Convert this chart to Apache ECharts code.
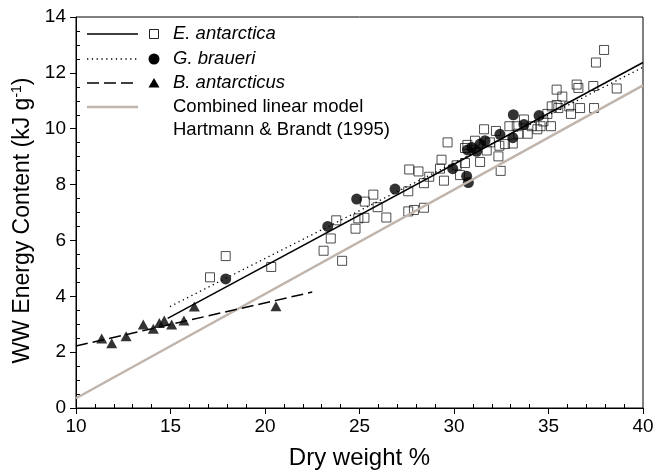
<!DOCTYPE html>
<html>
<head>
<meta charset="utf-8">
<script src="https://cdn.jsdelivr.net/npm/echarts@6/dist/echarts.min.js"></script>
<style>
  html, body { margin: 0; padding: 0; background: #fff; }
  #chart { width: 657px; height: 475px; }
</style>
</head>
<body>
<div id="chart"></div>
<script>
// dry weight %, energy content (kJ/g)
var eAntarctica = [
  [17.09, 4.68], [17.92, 5.44], [20.33, 5.05], [23.10, 5.63], [23.48, 6.07],
  [23.77, 6.72], [24.08, 5.27], [24.79, 6.42], [24.94, 6.79], [25.26, 6.81],
  [25.28, 7.39], [25.73, 7.64], [25.96, 7.19], [26.42, 6.82], [27.58, 7.76],
  [27.58, 7.04], [27.88, 7.09], [28.41, 7.17], [27.63, 8.54], [28.12, 8.47],
  [28.41, 8.05], [28.69, 8.28], [29.34, 8.89], [29.26, 8.57], [29.47, 8.14],
  [29.66, 9.51], [30.14, 8.69], [30.32, 8.34], [30.58, 9.31], [30.58, 8.77],
  [30.71, 9.42], [31.11, 9.57], [31.38, 8.81], [31.59, 9.98], [31.73, 9.22],
  [31.90, 9.51], [32.22, 9.92], [32.40, 9.39], [32.35, 9.01], [32.47, 8.49],
  [32.70, 9.45], [32.93, 10.09], [33.11, 9.47], [33.32, 10.09], [33.40, 9.82],
  [33.70, 10.33], [33.90, 9.82], [34.11, 10.09], [34.41, 9.98], [34.58, 10.09],
  [34.73, 10.26], [34.94, 10.53], [35.13, 10.09], [35.17, 10.80], [35.43, 10.85],
  [35.52, 10.74], [35.43, 11.40], [35.73, 11.15], [36.19, 10.53], [36.10, 10.80],
  [36.49, 11.58], [36.58, 11.46], [36.67, 10.74], [37.37, 11.53], [37.41, 10.74],
  [37.51, 12.37], [37.94, 12.82], [38.61, 11.44]
];
var gBraueri = [
  [17.92, 4.62], [23.32, 6.50], [24.85, 7.48], [26.88, 7.84], [29.93, 8.57],
  [30.67, 8.30], [30.76, 8.07], [30.71, 9.24], [30.94, 9.33], [31.20, 9.19],
  [31.38, 9.45], [31.64, 9.57], [32.43, 9.80], [33.11, 9.68], [33.14, 10.50],
  [33.70, 10.15], [34.50, 10.47]
];
var bAntarcticus = [
  [11.36, 2.49], [11.89, 2.32], [12.65, 2.57], [13.56, 2.99], [14.09, 2.84],
  [14.41, 3.04], [14.67, 3.13], [15.06, 2.99], [15.71, 3.13], [16.26, 3.63],
  [20.58, 3.64]
];
// fitted lines (end points)
var fitE = [[14.85, 3.21], [40, 12.37]];
var fitG = [[14.97, 3.63], [40, 12.2]];
var fitB = [[10, 2.22], [22.5, 4.15]];
var fitCombined = [[10, 0.35], [40, 11.55]];

var legendNames = ["E. antarctica", "G. braueri", "B. antarcticus", "Combined linear model", "Hartmann & Brandt (1995)"];

var chart = echarts.init(document.getElementById("chart"));
var font = "Liberation Sans, Arial, sans-serif";
var grey = "#c0b5ad";

// legend glyphs
var lx0 = 87, lx1 = 138, mx = 154, tx = 173;
var rows = [34, 59, 83, 107, 130];
var graphics = [
  { type: "line", shape: { x1: lx0, y1: rows[0], x2: lx1, y2: rows[0] }, style: { stroke: "#000", lineWidth: 1.5 } },
  { type: "line", shape: { x1: lx0, y1: rows[1], x2: lx1, y2: rows[1] }, style: { stroke: "#000", lineWidth: 1.3, lineDash: [1.3, 3.5] } },
  { type: "line", shape: { x1: lx0, y1: rows[2], x2: lx1, y2: rows[2] }, style: { stroke: "#000", lineWidth: 1.5, lineDash: [12, 5] } },
  { type: "line", shape: { x1: lx0, y1: rows[3], x2: lx1, y2: rows[3] }, style: { stroke: grey, lineWidth: 2.5 } },
  { type: "rect", shape: { x: mx - 4.5, y: rows[0] - 4.5, width: 9, height: 9 }, style: { fill: "none", stroke: "#222", lineWidth: 1 } },
  { type: "circle", shape: { cx: mx, cy: rows[1], r: 5.5 }, style: { fill: "#000" } },
  { type: "polygon", shape: { points: [[mx, rows[2] - 5], [mx + 5.5, rows[2] + 4.5], [mx - 5.5, rows[2] + 4.5]] }, style: { fill: "#000" } }
];
for (var i = 0; i < legendNames.length; i++) {
  graphics.push({
    type: "text",
    x: tx, y: rows[i],
    style: {
      text: legendNames[i],
      fill: "#000",
      font: (i < 3 ? "italic " : "") + "18.5px " + font,
      verticalAlign: "middle"
    }
  });
}

function lineSeries(data, style) {
  return {
    type: "line", data: data, showSymbol: false, silent: true, z: 5,
    lineStyle: style
  };
}

var option = {
  animation: false,
  grid: { left: 76, right: 14, top: 17, bottom: 59, show: true, borderColor: "#000", borderWidth: 1 },
  xAxis: {
    type: "value", min: 10, max: 40, interval: 5,
    name: "Dry weight %", nameLocation: "middle", nameGap: 38,
    nameTextStyle: { fontSize: 24, fontFamily: font, color: "#000" },
    axisLine: { lineStyle: { color: "#000" } },
    axisTick: { length: 6, lineStyle: { color: "#000" } },
    minorTick: { show: true, splitNumber: 5, length: -4, lineStyle: { color: "#000" } },
    axisLabel: { fontSize: 19, fontFamily: font, color: "#000", margin: 9 },
    splitLine: { show: false }
  },
  yAxis: {
    type: "value", min: 0, max: 14, interval: 2,
    name: "WW Energy Content (kJ g{sup|-1})", nameLocation: "middle", nameGap: 31,
    nameTextStyle: {
      fontSize: 23, fontFamily: font, color: "#000", padding: [0, 16, 0, 0],
      rich: { sup: { fontSize: 14, fontFamily: font, color: "#000", padding: [0, 0, 11, 0] } }
    },
    axisLine: { lineStyle: { color: "#000" } },
    axisTick: { length: 6, lineStyle: { color: "#000" } },
    minorTick: { show: true, splitNumber: 4, length: -4, lineStyle: { color: "#000" } },
    axisLabel: { fontSize: 19, fontFamily: font, color: "#000", margin: 10 },
    splitLine: { show: false }
  },
  graphic: graphics,
  series: [
    {
      name: "E. antarctica", type: "scatter", data: eAntarctica, symbol: "rect", symbolSize: 9,
      itemStyle: { color: "rgba(0,0,0,0)", borderColor: "#222", borderWidth: 1 }, z: 2
    },
    {
      name: "G. braueri", type: "scatter", data: gBraueri, symbol: "circle", symbolSize: 11,
      itemStyle: { color: "#000" }, z: 3
    },
    {
      name: "B. antarcticus", type: "scatter", data: bAntarcticus, symbol: "triangle", symbolSize: [11, 10],
      itemStyle: { color: "#000" }, z: 3
    },
    lineSeries(fitCombined, { color: grey, width: 2.5, type: "solid" }),
    lineSeries(fitE, { color: "#000", width: 1.5, type: "solid" }),
    lineSeries(fitG, { color: "#000", width: 1.3, type: [1.3, 3.5] }),
    lineSeries(fitB, { color: "#000", width: 1.5, type: [12, 5] })
  ]
};

chart.setOption(option);
</script>
</body>
</html>
